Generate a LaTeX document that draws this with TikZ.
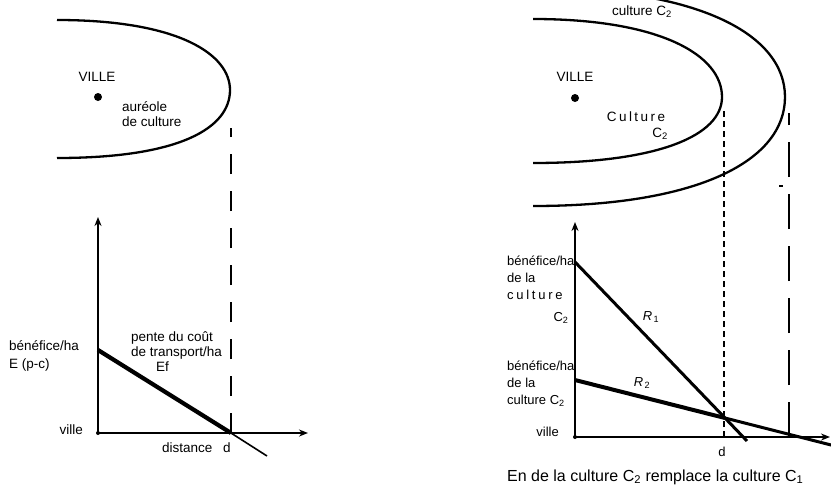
\documentclass[tikz,border=0pt]{standalone}
\usepackage{fontspec}
\setmainfont{Liberation Sans}
\usetikzlibrary{arrows.meta}
\begin{document}
\begin{tikzpicture}[x=1pt,y=-1pt,
  curve/.style={line width=2.3pt},
  axis/.style={line width=1.8pt,line cap=round,-{Stealth[length=9pt,width=7pt]}},
  thickline/.style={line width=4.2pt},
  thinline/.style={line width=1.6pt},
  longdash/.style={line width=1.3pt,dash pattern=on 20pt off 17pt},
  shortdash/.style={line width=1.3pt,dash pattern=on 6pt off 4pt},
  verylongdash/.style={line width=1.3pt,dash pattern=on 35pt off 17pt},
  lbl/.style={font=\fontsize{13.5}{15}\selectfont,inner sep=0pt,align=left},
  rlbl/.style={font=\fontsize{13}{17}\selectfont,inner sep=0pt,align=left},
  citydot/.style={circle,fill,inner sep=0pt,minimum size=8pt}
]
\useasboundingbox (0,0) rectangle (831,493);
\clip (0,0) rectangle (831,493);

% ================= LEFT: map =================
\draw[curve] (57,20) .. controls (180,20) and (230,55) .. (230,90)
  .. controls (230,128) and (180,158) .. (57,158);
\node[lbl,anchor=center] (lville) at (97,77) {VILLE};
\node[citydot] (ldot) at (98,97) {};
\node[lbl,anchor=west] (laureole) at (122,114) {auréole\\de culture};

% ================= LEFT: graph =================
\coordinate (LO) at (98,433);
\coordinate (LY) at (98,217);
\coordinate (LX) at (308,433);
\coordinate (LA) at (98,350);
\coordinate (Ld) at (231,433);
\coordinate (LE) at (267,456);
\coordinate (Ltop) at (231,128);
\draw[longdash] (Ld) -- (Ltop);
\draw[axis] (LO) -- (LY);
\draw[axis] (LO) -- (LX);
\fill (LO) circle (2pt);
\draw[thickline] (LA) -- (Ld);
\draw[thinline] (Ld) -- (LE);
\node[lbl,anchor=west] (lbenef) at (9,356) {bénéfice/ha\\[3pt]E (p-c)};
\node[lbl,anchor=east] (lvillea) at (83,430) {ville};
\node[lbl,anchor=west] (lpente) at (131,345) {pente du coût\\de transport/ha};
\node[lbl,anchor=west] (lef) at (156,367) {Ef};
\node[lbl,anchor=west] (ldist) at (162,448) {distance};
\node[lbl,anchor=center] (ldd) at (227,448) {d};

% ================= RIGHT: map =================
\draw[curve] (533,206) .. controls (700,206) and (785,160) .. (785,97)
  .. controls (785,35) and (700,-12) .. (533,-12);
\draw[curve] (533,19) .. controls (660,19) and (722,55) .. (722,97)
  .. controls (722,135) and (660,163) .. (533,163);
\node[lbl,anchor=center] (rc2top) at (642,12) {culture C\textsubscript{2}};
\node[lbl,anchor=center] (rville) at (575,77) {VILLE};
\node[citydot] (rdot) at (575,98) {};
\node[lbl,anchor=center] (rculture) at (636,117) {\addfontfeature{LetterSpace=18}Culture};
\node[lbl,anchor=center] (rc2in) at (660,134) {C\textsubscript{2}};

% ================= RIGHT: graph =================
\coordinate (RO) at (575,437);
\coordinate (RY) at (575,222);
\coordinate (RX) at (830,437);
\coordinate (R1a) at (575,262);
\coordinate (Rint) at (725,418);
\coordinate (R1e) at (747,441);
\coordinate (R2a) at (575,380);
\coordinate (R2e) at (835,446);
\coordinate (Rd) at (724,437);
\coordinate (Rdtop) at (724,108);
\coordinate (Rf) at (789,437);
\coordinate (Rftop) at (789,113);
\coordinate (tickA) at (779,186);
\coordinate (tickB) at (783,186);
\draw[shortdash] (Rd) -- (Rdtop);
\draw[verylongdash] (Rf) -- (Rftop);
\draw[line width=1.2pt] (tickA) -- (tickB);
\draw[axis] (RO) -- (RY);
\draw[axis] (RO) -- (RX);
\fill (RO) circle (2pt);
\draw[line width=3pt] (R1a) -- (Rint) -- (R1e);
\draw[line width=4pt] (R2a) -- (Rint);
\draw[line width=3pt] (Rint) -- (R2e);
\node[rlbl,anchor=center] (r1) at (651,317) {\textit{R}\kern1.5pt\textsubscript{1}};
\node[rlbl,anchor=center] (r2) at (642,383) {\textit{R}\kern1.5pt\textsubscript{2}};
\node[rlbl,anchor=north west] (rben1) at (507,256) {bénéfice/ha\\de la\\{\addfontfeature{LetterSpace=21}culture}};
\node[rlbl,anchor=center] (rben1c) at (561,318) {C\textsubscript{2}};
\node[rlbl,anchor=north west] (rben2) at (507,361) {bénéfice/ha\\de la\\culture C\textsubscript{2}};
\node[rlbl,anchor=east] (rvillea) at (559,432) {ville};
\node[rlbl,anchor=center] (rdd) at (722,452) {d};
\node[lbl,font=\fontsize{16}{18}\selectfont,anchor=west] (caption) at (507,477)
  {En de la culture C\textsubscript{2} remplace la culture C\textsubscript{1}};
\end{tikzpicture}
\end{document}
